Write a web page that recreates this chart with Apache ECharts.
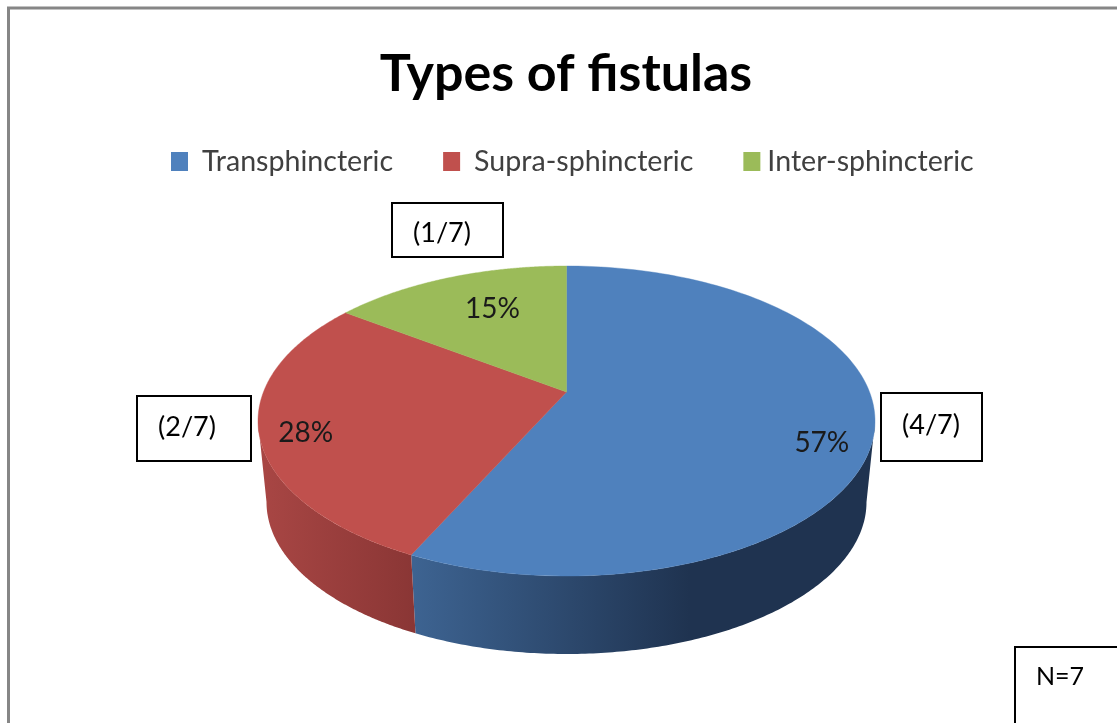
<!DOCTYPE html>
<html><head><meta charset="utf-8">
<style>html,body{margin:0;padding:0;background:#fff;overflow:hidden}#c{width:1117px;height:723px}</style>
<script src="https://cdn.jsdelivr.net/npm/echarts@6/dist/echarts.min.js"></script>
</head><body><div id="c"></div>
<script>
const titleText = 'Types of fistulas';
const categories = ['Transphincteric', 'Supra-sphincteric', 'Inter-sphincteric'];
const percents = [57, 28, 15];
const counts = [4, 2, 1];
const total = 7;
const colors = ['#4f81bd', '#c0504d', '#9bbb59'];

// layout of the tilted disc
const top3d = {cx: 566.5, cy: 421, rx: 308.5, ry: 155};
const bottom3d = {cx: 566.5, cy: 502, rx: 300, ry: 152};
const tilt = -0.187;             // how far the perspective moves the disc's centre
const labelOffset = [[-53, 17], [47, 2], [44, 31]];
const wallFill = [
  {x: 415, x2: 690, from: '#3d6391', to: '#1f3350'},
  {x: 262, x2: 415, from: '#a84644', to: '#8a3635'},
  null
];
const boxes = [
  {x: 881, y: 393, w: 101, h: 68, tx: 931, ty: 425, i: 0},
  {x: 137, y: 396, w: 114, h: 65, tx: 187, ty: 427, i: 1},
  {x: 392, y: 203, w: 111, h: 54, tx: 442, ty: 233, i: 2}
];

const FONT = 'Lato';
const sum = percents.reduce((a, b) => a + b, 0);

// share of the pie (0..1, clockwise from top) -> normalised position on the ellipse
function proj(f) {
  const a = f * 2 * Math.PI, u = Math.sin(a), v = -Math.cos(a);
  const d = 1 + tilt * v;
  return [u * Math.sqrt(1 - tilt * tilt) / d, (v + tilt) / d];
}
const onEllipse = (e, p) => [e.cx + e.rx * p[0], e.cy + e.ry * p[1]];
const phi = p => { let t = Math.atan2(p[0], -p[1]); return t < 0 ? t + 2 * Math.PI : t; };

function renderSlice(idx) {
  return function () {
    let start = 0;
    for (let i = 0; i < idx; i++) start += percents[i] / sum;
    const end = start + percents[idx] / sum;
    const N = 160, rim = [];
    for (let k = 0; k <= N; k++) rim.push(proj(start + (end - start) * k / N));
    const apex = onEllipse(top3d, [0, tilt]);
    const children = [];

    // side wall: only the part of the rim that faces the viewer
    const pa = Math.max(phi(rim[0]), Math.PI / 2);
    const pb = Math.min(end >= 1 ? 2 * Math.PI : phi(rim[N]), 3 * Math.PI / 2);
    if (pb > pa && wallFill[idx]) {
      const upper = [], lower = [];
      for (let k = 0; k <= N; k++) {
        const t = pa + (pb - pa) * k / N, p = [Math.sin(t), -Math.cos(t)];
        upper.push(onEllipse(top3d, p));
        lower.unshift(onEllipse(bottom3d, p));
      }
      const w = wallFill[idx];
      children.push({
        type: 'polygon',
        shape: {points: upper.concat(lower)},
        style: {fill: {type: 'linear', x: w.x, y: 0, x2: w.x2, y2: 0, global: true,
          colorStops: [{offset: 0, color: w.from}, {offset: 1, color: w.to}]}}
      });
    }

    // top face
    children.push({
      type: 'polygon',
      shape: {points: [apex].concat(rim.map(p => onEllipse(top3d, p)))},
      style: {fill: colors[idx], stroke: colors[idx], lineWidth: 0.4}
    });

    // value label
    const mid = onEllipse(top3d, proj((start + end) / 2));
    children.push({
      type: 'text', z2: 10,
      style: {
        text: percents[idx] + '%',
        x: mid[0] + labelOffset[idx][0], y: mid[1] + labelOffset[idx][1],
        align: 'center', verticalAlign: 'middle',
        font: '28px ' + FONT, fill: '#1a1a1a'
      }
    });
    return {type: 'group', children};
  };
}

const boxEls = [];
function addBox(x, y, w, h, tx, ty, text, size) {
  boxEls.push({type: 'rect', z: 5, shape: {x, y, width: w, height: h},
    style: {fill: '#fff', stroke: '#000', lineWidth: 2}});
  boxEls.push({type: 'text', z: 6, style: {text, x: tx, y: ty, align: 'center',
    verticalAlign: 'middle', font: size + 'px ' + FONT, fill: '#000'}});
}
boxes.forEach(b => addBox(b.x, b.y, b.w, b.h, b.tx, b.ty, '(' + counts[b.i] + '/' + total + ')', 27));
addBox(1015, 647, 160, 140, 1060, 677, 'N=' + total, 25);

const chart = echarts.init(document.getElementById('c'), null, {renderer: 'canvas'});
chart.setOption({
  animation: false,
  backgroundColor: '#fff',
  title: {
    text: titleText, left: 561, top: 43, textAlign: 'center',
    textStyle: {fontFamily: FONT, fontWeight: 'bold', fontSize: 52, color: '#000'}
  },
  legend: {
    left: 166, top: 142, itemWidth: 17, itemHeight: 19, itemGap: 50, icon: 'rect',
    selectedMode: false,
    textStyle: {fontFamily: FONT, fontSize: 28.6, color: '#404040'},
    data: categories.map((name, i) => ({
      name,
      textStyle: {padding: [0, 0, 0, i === 2 ? 2 : 9]}
    }))
  },
  graphic: [
    {type: 'rect', z: 1, shape: {x: 8.5, y: 8, width: 1300, height: 900},
      style: {fill: 'none', stroke: '#868686', lineWidth: 3}}
  ].concat(boxEls),
  series: categories.map((name, i) => ({
    type: 'custom', name, coordinateSystem: 'none', silent: true, z: 3,
    itemStyle: {color: colors[i]},
    data: [percents[i]],
    renderItem: renderSlice(i)
  }))
});
</script></body></html>
